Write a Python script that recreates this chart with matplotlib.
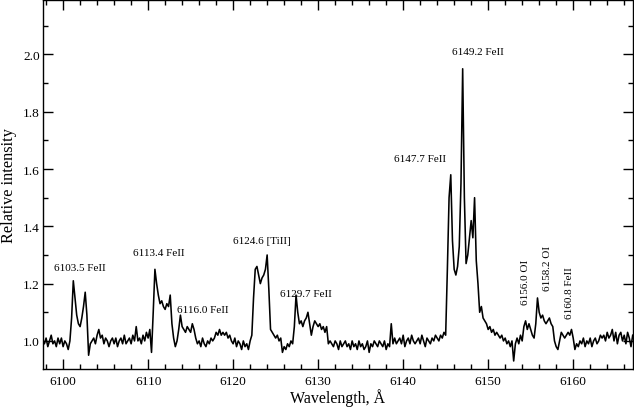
import numpy as np
import matplotlib
matplotlib.use("Agg")
import matplotlib.pyplot as plt
from matplotlib.ticker import MultipleLocator

plt.rcParams['font.family'] = ['Liberation Serif', 'DejaVu Serif']

# Spectrum sampled every 0.2 A starting at 6097.6 A (rows of 10 samples = 2 A)
wl_start = 6097.6
wl_step = 0.2
intensity = [
    1.00, 0.99, 1.01, 0.98, 1.00, 1.02, 0.99, 1.00, 0.98, 1.01,  # 6097.6
    0.99, 1.01, 0.98, 1.00, 0.99, 0.97, 1.00, 1.08, 1.21, 1.15,  # 6099.6
    1.09, 1.06, 1.05, 1.08, 1.12, 1.17, 1.09, 0.95, 0.99, 1.00,  # 6101.6
    1.01, 0.99, 1.02, 1.04, 1.01, 1.02, 0.99, 1.01, 1.00, 0.98,  # 6103.6
    1.00, 1.01, 0.99, 1.01, 0.98, 1.00, 1.01, 0.99, 1.02, 0.99,  # 6105.6
    1.00, 1.01, 0.99, 1.02, 1.00, 1.05, 1.00, 1.01, 0.99, 1.02,  # 6107.6
    1.00, 1.03, 1.01, 1.04, 0.96, 1.10, 1.25, 1.20, 1.16, 1.13,  # 6109.6
    1.14, 1.12, 1.11, 1.13, 1.12, 1.16, 1.06, 1.01, 0.98, 1.00,  # 6111.6
    1.04, 1.09, 1.05, 1.04, 1.03, 1.05, 1.04, 1.03, 1.06, 1.04,  # 6113.6
    1.01, 0.99, 1.00, 0.98, 1.01, 0.99, 0.98, 1.00, 0.99, 1.01,  # 6115.6
    1.00, 1.01, 1.03, 1.02, 1.04, 1.02, 1.03, 1.02, 1.03, 1.01,  # 6117.6
    1.02, 1.00, 0.99, 1.01, 0.98, 1.00, 0.99, 0.97, 1.00, 0.98,  # 6119.6
    0.99, 0.97, 1.00, 1.02, 1.15, 1.25, 1.26, 1.23, 1.20, 1.22,  # 6121.6
    1.23, 1.25, 1.30, 1.18, 1.04, 1.03, 1.02, 1.01, 1.02, 1.00,  # 6123.6
    1.01, 0.96, 0.98, 0.97, 0.99, 0.98, 1.00, 0.99, 1.05, 1.16,  # 6125.6
    1.10, 1.06, 1.07, 1.05, 1.07, 1.08, 1.10, 1.06, 1.02, 1.05,  # 6127.6
    1.07, 1.06, 1.05, 1.06, 1.04, 1.05, 1.03, 1.05, 0.99, 1.00,  # 6129.6
    0.99, 0.98, 1.00, 0.99, 0.97, 1.00, 0.98, 0.99, 1.00, 0.98,  # 6131.6
    0.99, 0.97, 1.00, 0.98, 0.99, 0.97, 1.00, 0.98, 0.99, 0.97,  # 6133.6
    0.98, 1.00, 0.96, 0.99, 0.98, 1.00, 0.99, 0.98, 1.00, 0.99,  # 6135.6
    0.98, 1.00, 0.97, 0.99, 0.98, 1.06, 0.99, 1.01, 0.99, 1.00,  # 6137.6
    1.01, 0.99, 1.02, 0.98, 1.00, 1.01, 0.99, 1.02, 1.00, 0.99,  # 6139.6
    1.00, 1.01, 0.99, 1.02, 1.00, 0.98, 1.01, 1.00, 0.99, 1.01,  # 6141.6
    1.00, 1.02, 1.01, 1.00, 1.02, 1.01, 1.03, 1.02, 1.25, 1.50,  # 6143.6
    1.58, 1.35, 1.25, 1.23, 1.26, 1.33, 1.55, 1.95, 1.50, 1.27,  # 6145.6
    1.30, 1.36, 1.42, 1.36, 1.50, 1.28, 1.20, 1.10, 1.12, 1.08,  # 6147.6
    1.07, 1.06, 1.04, 1.05, 1.03, 1.04, 1.02, 1.03, 1.02, 1.01,  # 6149.6
    1.02, 1.00, 1.01, 0.99, 1.00, 0.98, 1.00, 0.93, 0.99, 1.01,  # 6151.6
    0.99, 1.02, 1.00, 1.05, 1.07, 1.04, 1.06, 1.04, 1.02, 1.01,  # 6153.6
    1.06, 1.15, 1.10, 1.08, 1.09, 1.07, 1.06, 1.07, 1.08, 1.06,  # 6155.6
    1.05, 1.00, 0.98, 0.97, 1.00, 1.03, 1.02, 1.01, 1.02, 1.03,  # 6157.6
    1.02, 1.04, 1.01, 0.97, 0.99, 0.98, 1.00, 0.99, 1.01, 0.98,  # 6159.6
    1.00, 0.99, 1.01, 0.98, 1.00, 1.01, 0.99, 1.00, 1.02, 1.01,  # 6161.6
    1.02, 1.00, 1.03, 1.01, 1.02, 1.04, 1.00, 1.03, 0.99, 1.02,  # 6163.6
    1.03, 1.00, 1.02, 0.99, 1.03, 1.01, 0.98, 1.02,              # 6165.6
]
wavelength = wl_start + wl_step * np.arange(len(intensity))

# Line labels
line_labels = ["6103.5 FeII", "6113.4 FeII", "6116.0 FeII", "6124.6 [TiII]",
               "6129.7 FeII", "6147.7 FeII", "6149.2 FeII",
               "6156.0 OI", "6158.2 OI", "6160.8 FeII"]
label_x = [6102.0, 6111.2, 6116.4, 6123.4, 6128.5, 6142.0, 6148.8,
           6154.4, 6156.95, 6159.6]
label_y = [1.258, 1.307, 1.108, 1.352, 1.167, 1.638, 2.011,
           1.206, 1.256, 1.172]
label_rot = [0, 0, 0, 0, 0, 0, 0, 90, 90, 90]

fig = plt.figure(figsize=(6.34, 4.10), dpi=100)
ax = fig.add_axes([42.7/634, 40/410, (632.7-42.7)/634, 369/410])

ax.plot(wavelength, intensity, color='black', lw=1.15)

for t, x, y, r in zip(line_labels, label_x, label_y, label_rot):
    ax.text(x, y, t, fontsize=8, ha='center', va='center', rotation=r)

ax.set_xlim(6097.6, 6167.0)
ax.set_ylim(0.902, 2.19)
ax.xaxis.set_major_locator(MultipleLocator(10))
ax.xaxis.set_minor_locator(MultipleLocator(2))
ax.yaxis.set_major_locator(MultipleLocator(0.2))
ax.yaxis.set_minor_locator(MultipleLocator(0.1))
ax.tick_params(which='both', direction='in', top=True, right=True, width=1)
ax.tick_params(which='major', length=7, labelsize=9.6)
ax.tick_params(axis='x', which='major', pad=4)
ax.tick_params(axis='y', which='major', pad=2)
ax.tick_params(which='minor', length=3.5)
ax.set_yticks([1.0, 1.2, 1.4, 1.6, 1.8, 2.0])

ax.set_xlabel("Wavelength, Å", fontsize=11.5, labelpad=1)
ax.set_ylabel("Relative intensity", fontsize=11.7, labelpad=4)

for s in ax.spines.values():
    s.set_linewidth(1.0)

fig.savefig("out.png", dpi=100)
